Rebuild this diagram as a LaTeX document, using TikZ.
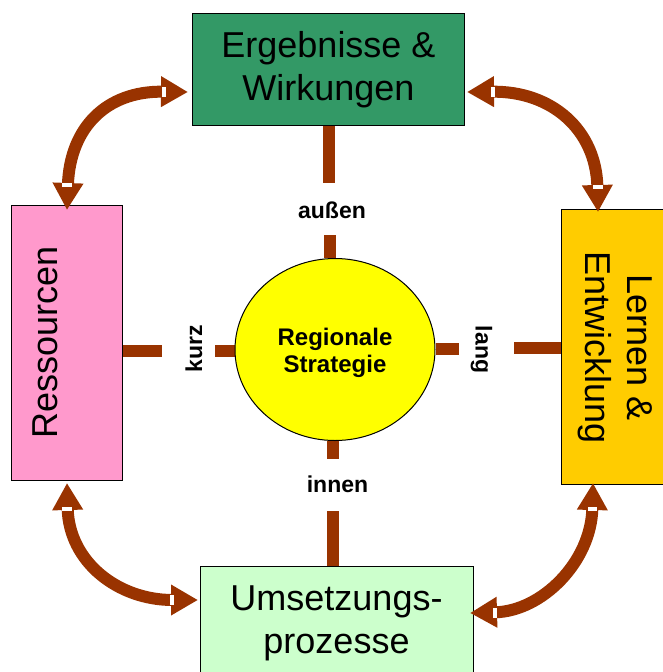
\documentclass[tikz,border=0pt]{standalone}
\usepackage{fontspec}
\setmainfont{Liberation Sans}
\usetikzlibrary{arrows.meta,shapes.geometric,backgrounds}
\definecolor{brn}{HTML}{993300}
\definecolor{ergc}{HTML}{339966}
\definecolor{resc}{HTML}{FF99CC}
\definecolor{lernc}{HTML}{FFCC00}
\definecolor{umsc}{HTML}{CCFFCC}
\definecolor{circc}{HTML}{FFFF00}
\begin{document}
\begin{tikzpicture}[x=1pt,y=-1pt,
  box/.style={draw=black, line width=1pt, rectangle, inner sep=0pt},
  big/.style={font=\fontsize{36}{43}\selectfont, inner sep=0pt, anchor=base},
  lab/.style={font=\bfseries\fontsize{23}{27}\selectfont, inner sep=0pt, anchor=base},
  cen/.style={font=\bfseries\fontsize{24}{27}\selectfont, inner sep=0pt, anchor=base},
  bar/.style={draw=brn, line width=12pt},
  dbl/.style={draw=brn, line width=12pt, {Triangle[length=27pt,width=29pt]}-{Triangle[length=27pt,width=29pt]}},
  notch/.style={fill=white, draw=none}]
\useasboundingbox (0,0) rectangle (663,672);
\clip (0,0) rectangle (663,672);

% boxes
\node[box, fill=ergc, minimum width=272pt, minimum height=112pt] (erg) at (328,69) {};
\node[box, fill=resc, minimum width=111pt, minimum height=275pt] (res) at (66.5,342.5) {};
\node[box, fill=lernc, minimum width=119pt, minimum height=275pt] (lern) at (620.5,346.5) {};
\node[box, fill=umsc, minimum width=273pt, minimum height=124pt] (ums) at (336.5,628) {};
\node[ellipse, draw=black, line width=1pt, fill=circc, minimum width=200pt, minimum height=182pt, inner sep=0pt] (circ) at (335,349.5) {};

% texts
\node[big] (erg1) at (328.5,57) {Ergebnisse \&};
\node[big] (erg2) at (328.5,100) {Wirkungen};
\node[big, rotate=90] (res1) at (57,342) {Ressourcen};
\node[big, rotate=-90] (lern1) at (627,347.5) {Lernen \&};
\node[big, rotate=-90] (lern2) at (585,347.5) {Entwicklung};
\node[big] (ums1) at (336.5,610) {Umsetzungs-};
\node[big] (ums2) at (336.5,653) {prozesse};
\node[cen] (c1) at (335,345) {Regionale};
\node[cen] (c2) at (335,372) {Strategie};
\node[lab] (aussen) at (332,218) {außen};
\node[lab] (innen) at (337.5,492) {innen};
\node[lab, rotate=90] (kurz) at (202,349) {kurz};
\node[lab, rotate=-90] (lang) at (475.5,349.5) {lang};

% bars
\coordinate (b1) at (329,183);
\coordinate (b2) at (330,235);
\coordinate (l1) at (162,351);
\coordinate (l2) at (215,350.5);
\coordinate (r1) at (459,348.5);
\coordinate (r2) at (514,348);
\coordinate (d1) at (333,459);
\coordinate (d2) at (333,511);
\begin{pgfonlayer}{background}
\draw[bar] (b1 |- erg.south) -- (b1);
\draw[bar] (b2) -- (b2 |- circ.north);
\draw[bar] (res.east |- l1) -- (l1);
\draw[bar] (l2) -- (l2 -| circ.west);
\draw[bar] (r1 -| circ.east) -- (r1);
\draw[bar] (r2) -- (r2 -| lern.west);
\draw[bar] (d1 |- circ.south) -- (d1);
\draw[bar] (d2) -- (d2 |- ums.north);
\end{pgfonlayer}

% curved double arrows
\coordinate (a1s) at (188,92);
\coordinate (a1e) at (67,210);
\coordinate (a2s) at (467,92);
\coordinate (a2e) at (598,212);
\coordinate (a3s) at (67,483);
\coordinate (a3e) at (198,600);
\coordinate (a4s) at (593,483);
\coordinate (a4e) at (470,613);
\draw[dbl] (a1s) .. controls (106,91) and (70,128) .. (a1e);
\draw[dbl] (a2s) .. controls (552,91) and (596,130) .. (a2e);
\draw[dbl] (a3s) .. controls (69,562) and (118,600) .. (a3e);
\draw[dbl] (a4s) .. controls (591,562) and (542,611) .. (a4e);

% small white notches at the arrow heads
\fill[notch] (162,87) rectangle (166,97);
\fill[notch] (62,183) rectangle (72,187);
\fill[notch] (491,87) rectangle (495,97);
\fill[notch] (593,185) rectangle (603,189);
\fill[notch] (62,507) rectangle (72,511);
\fill[notch] (170,595) rectangle (174,605);
\fill[notch] (588,507) rectangle (597,511);
\fill[notch] (493,608) rectangle (497,618);
\end{tikzpicture}
\end{document}
